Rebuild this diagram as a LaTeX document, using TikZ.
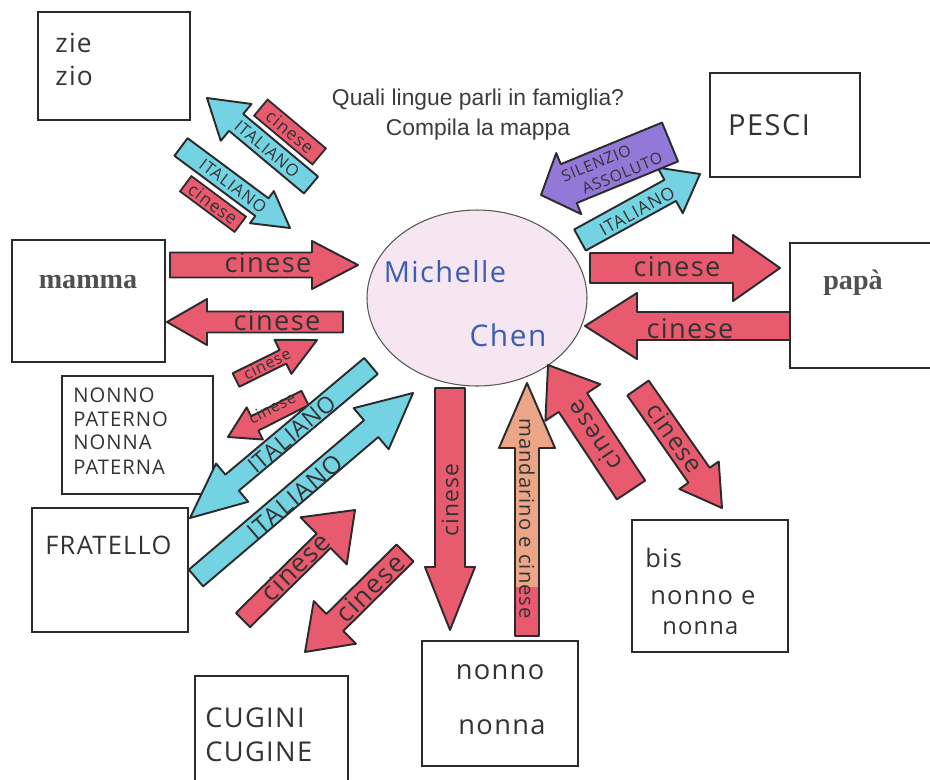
\documentclass[tikz,border=0pt]{standalone}
\usepackage{fontspec}
\setmainfont{Liberation Serif}
\newfontfamily\hand{Open Sans}[LetterSpace=5]
\newfontfamily\titlef{Liberation Sans}
\usetikzlibrary{shapes.geometric}
\definecolor{ared}{HTML}{E85A6E}
\definecolor{acyan}{HTML}{74D3E2}
\definecolor{apurple}{HTML}{9478D8}
\definecolor{aorange}{HTML}{EBA587}
\definecolor{circfill}{HTML}{F5E6F2}
\definecolor{ink}{HTML}{2B2B2B}
\definecolor{hink}{HTML}{333333}
\definecolor{blueink}{HTML}{3D5DB5}
\definecolor{titlegray}{HTML}{3C3C3C}
\definecolor{printgray}{HTML}{505050}
\newcommand\px{0.02cm}
\newcommand\fs[1]{\fontsize{#1}{#1}\selectfont}
% block arrow: x1 y1 (tail) x2 y2 (tip) halfshaft halfhead headlength style
\newcommand\barrow[8]{%
 \pgfmathsetmacro\bang{atan2((#2)-(#4),(#3)-(#1))}%
 \pgfmathsetmacro\blen{veclen((#3)-(#1),(#4)-(#2))}%
 \pgfmathsetmacro\bbase{\blen-(#7)}%
 \pgfmathsetmacro\bt{\bang>90 ? \bang-180 : (\bang<=-90 ? \bang+180 : \bang)}%
 \draw[arr,#8,shift={(#1,#2)},rotate=\bang] (0,-#5) -- (\bbase,-#5) -- (\bbase,-#6) -- (\blen,0) -- (\bbase,#6) -- (\bbase,#5) -- (0,#5) -- cycle;}
\begin{document}
\begin{tikzpicture}[x=0.02cm,y=-0.02cm,
 box/.style={draw=ink, line width=0.9pt, fill=white, inner sep=0pt},
 arr/.style={draw=ink, line width=1.1pt, line join=round},
 lbl/.style={font=\hand, text=hink, inner sep=0pt},
 patch/.style={draw=ink, line width=1pt, fill=ared, inner sep=0pt, text=hink},
 boxtxt/.style={font=\hand, text=hink, inner sep=0pt, anchor=west},
]
\useasboundingbox (0,0) rectangle (930,779);
\fill[white] (0,0) rectangle (930,779);

% title
\node[font=\titlef\fontsize{13}{17}\selectfont, text=titlegray, align=center] (title) at (478,115) {Quali lingue parli in famiglia?\\Compila la mappa};

% boxes
\node[box, minimum width=152*\px, minimum height=108*\px] (zie) at (114,66) {};
\node[box, minimum width=153*\px, minimum height=122*\px] (mamma) at (88.5,301) {};
\node[box, minimum width=151*\px, minimum height=118*\px] (nonnop) at (137.5,435) {};
\node[box, minimum width=156*\px, minimum height=124*\px] (fratello) at (110,570) {};
\node[box, minimum width=153*\px, minimum height=130*\px] (cugini) at (271.5,741) {};
\node[box, minimum width=156*\px, minimum height=125*\px] (nonni) at (500,703.5) {};
\node[box, minimum width=156*\px, minimum height=132*\px] (bis) at (710,586) {};
\node[box, minimum width=150*\px, minimum height=104*\px] (pesci) at (785,125) {};
\node[box, minimum width=150*\px, minimum height=125*\px] (papa) at (865,305.5) {};

% centre
\node[ellipse, draw=ink!80, line width=0.6pt, fill=circfill, minimum width=220*\px, minimum height=176*\px] (me) at (477,298) {};
\node[lbl, text=blueink, font=\hand\fs{16.5}] (mich) at (445,272) {Michelle};
\node[lbl, text=blueink, font=\hand\fs{17}] (chen) at (508,335) {Chen};

% mamma arrows
\barrow{170}{265}{358}{265}{12.5}{24}{46}{fill=ared}
\node[lbl, font=\hand\fs{15.5}] (l1) at (268,263) {cinese};
\barrow{343}{322}{167}{322}{10.5}{23}{40}{fill=ared}
\node[lbl, font=\hand\fs{15.5}] (l2) at (277,321) {cinese};
% papa arrows
\barrow{590}{268}{780}{268}{15}{33}{47}{fill=ared}
\node[lbl, font=\hand\fs{15.5}] (l3) at (677,267) {cinese};
\barrow{790}{326}{585}{326}{14}{33}{52}{fill=ared}
\node[lbl, font=\hand\fs{15.5}] (l4) at (690,329) {cinese};

% top-left pair
\barrow{311}{185}{207}{98}{11}{24}{38}{fill=acyan}
\node[patch, rotate=\bt, minimum width=76*\px, minimum height=21*\px, font=\hand\fs{10}] (pA) at (290,132) {cinese};
\node[lbl, rotate=\bt, font=\hand\fs{9.5}] (l5) at (267,149) {ITALIANO};
\barrow{181}{147}{290}{228}{11}{20}{35}{fill=acyan}
\node[patch, rotate=\bt, minimum width=68*\px, minimum height=19*\px, font=\hand\fs{10}] (pB) at (213,204) {cinese};
\node[lbl, rotate=\bt, font=\hand\fs{9.5}] (l6) at (233,186) {ITALIANO};

% top-right pair
\barrow{580}{240}{700}{174}{12}{26}{34}{fill=acyan}
\node[lbl, rotate=\bt, font=\hand\fs{10}] (l8) at (637,211) {ITALIANO};
\barrow{670}{142}{541}{195}{21}{33}{30}{fill=apurple}
\node[lbl, rotate=\bt, align=left, font=\hand\fontsize{9}{11}\selectfont] (l7) at (612,167) {SILENZIO\\\hspace*{8pt}ASSOLUTO};

% lower-left small red
\barrow{236}{380}{317}{340}{7.5}{19}{38}{fill=ared}
\node[lbl, rotate=\bt, font=\hand\fs{9}] (l9) at (267,364) {cinese};
\barrow{305}{398}{228}{437}{8}{18}{30}{fill=ared}
\node[lbl, rotate=\bt, font=\hand\fs{9}] (l10) at (272,408) {cinese};

% big cyan pair
\barrow{371}{366}{190}{518}{10.5}{25}{55}{fill=acyan}
\node[lbl, rotate=\bt, font=\hand\fs{13}] (l11) at (292,434) {ITALIANO};
\barrow{196}{578}{413}{393}{11}{27}{55}{fill=acyan}
\node[lbl, rotate=\bt, font=\hand\fs{14}] (l12) at (295,497) {ITALIANO};

% cugini pair
\barrow{243}{620}{355}{510}{10}{33}{44}{fill=ared}
\node[lbl, rotate=\bt, font=\hand\fs{15}] (l13) at (295,567) {cinese};
\barrow{405}{553}{305}{652}{12}{30}{42}{fill=ared}
\node[lbl, rotate=\bt, font=\hand\fs{15}] (l14) at (370,588) {cinese};

% nonni pair
\barrow{450}{388}{450}{630}{15}{25}{63}{fill=ared}
\node[lbl, rotate=90, font=\hand\fs{13}] (l15) at (450,500) {cinese};
\barrow{527}{636}{527}{383}{12}{28}{65}{fill=aorange,draw=none}
\fill[ared] (515,587) rectangle (539,636);
\barrow{527}{636}{527}{383}{12}{28}{65}{fill=none}
\node[lbl, rotate=-90, anchor=west, font=\hand\fs{11.5}] (l16) at (527,418) {mandarino e cinese};

% bis pair
\barrow{631}{490}{548}{365}{17}{33}{45}{fill=ared}
\node[lbl, rotate=\bang, font=\hand\fs{14}] (l17) at (594,436) {cinese};
\barrow{638}{388}{722}{508}{13}{24}{40}{fill=ared}
\node[lbl, rotate=\bt, font=\hand\fs{14}] (l18) at (675,438) {cinese};

% box texts
\node[boxtxt, font=\hand\fs{15}] (t1) at (55,43) {zie};
\node[boxtxt, font=\hand\fs{15}] (t2) at (55,76) {zio};
\node[font=\bfseries\fs{16}, text=printgray, inner sep=0pt] (t3) at (88,282) {mamma};
\node[font=\bfseries\fs{16}, text=printgray, inner sep=0pt] (t4) at (853,283) {papà};
\node[boxtxt, font=\hand\fs{11.5}] (t5) at (73,395) {NONNO};
\node[boxtxt, font=\hand\fs{11.5}] (t6) at (73,419) {PATERNO};
\node[boxtxt, font=\hand\fs{11.5}] (t7) at (73,442) {NONNA};
\node[boxtxt, font=\hand\fs{11.5}] (t8) at (73,467) {PATERNA};
\node[boxtxt, font=\hand\fs{14.5}] (t9) at (45,545) {FRATELLO};
\node[boxtxt, font=\hand\fs{15.5}] (t10) at (205,718) {CUGINI};
\node[boxtxt, font=\hand\fs{15.5}] (t11) at (205,752) {CUGINE};
\node[lbl, font=\hand\fs{15.5}] (t12) at (500,672) {nonno};
\node[lbl, font=\hand\fs{15.5}] (t13) at (502,727) {nonna};
\node[boxtxt, font=\hand\fs{14.5}] (t14) at (645,558) {bis};
\node[boxtxt, font=\hand\fs{14.5}] (t15) at (650,598) {nonno e};
\node[boxtxt, font=\hand\fs{13.5}] (t16) at (662,628) {nonna};
\node[lbl, font=\hand\fs{16.5}] (t17) at (769,125) {PESCI};
\end{tikzpicture}
\end{document}
